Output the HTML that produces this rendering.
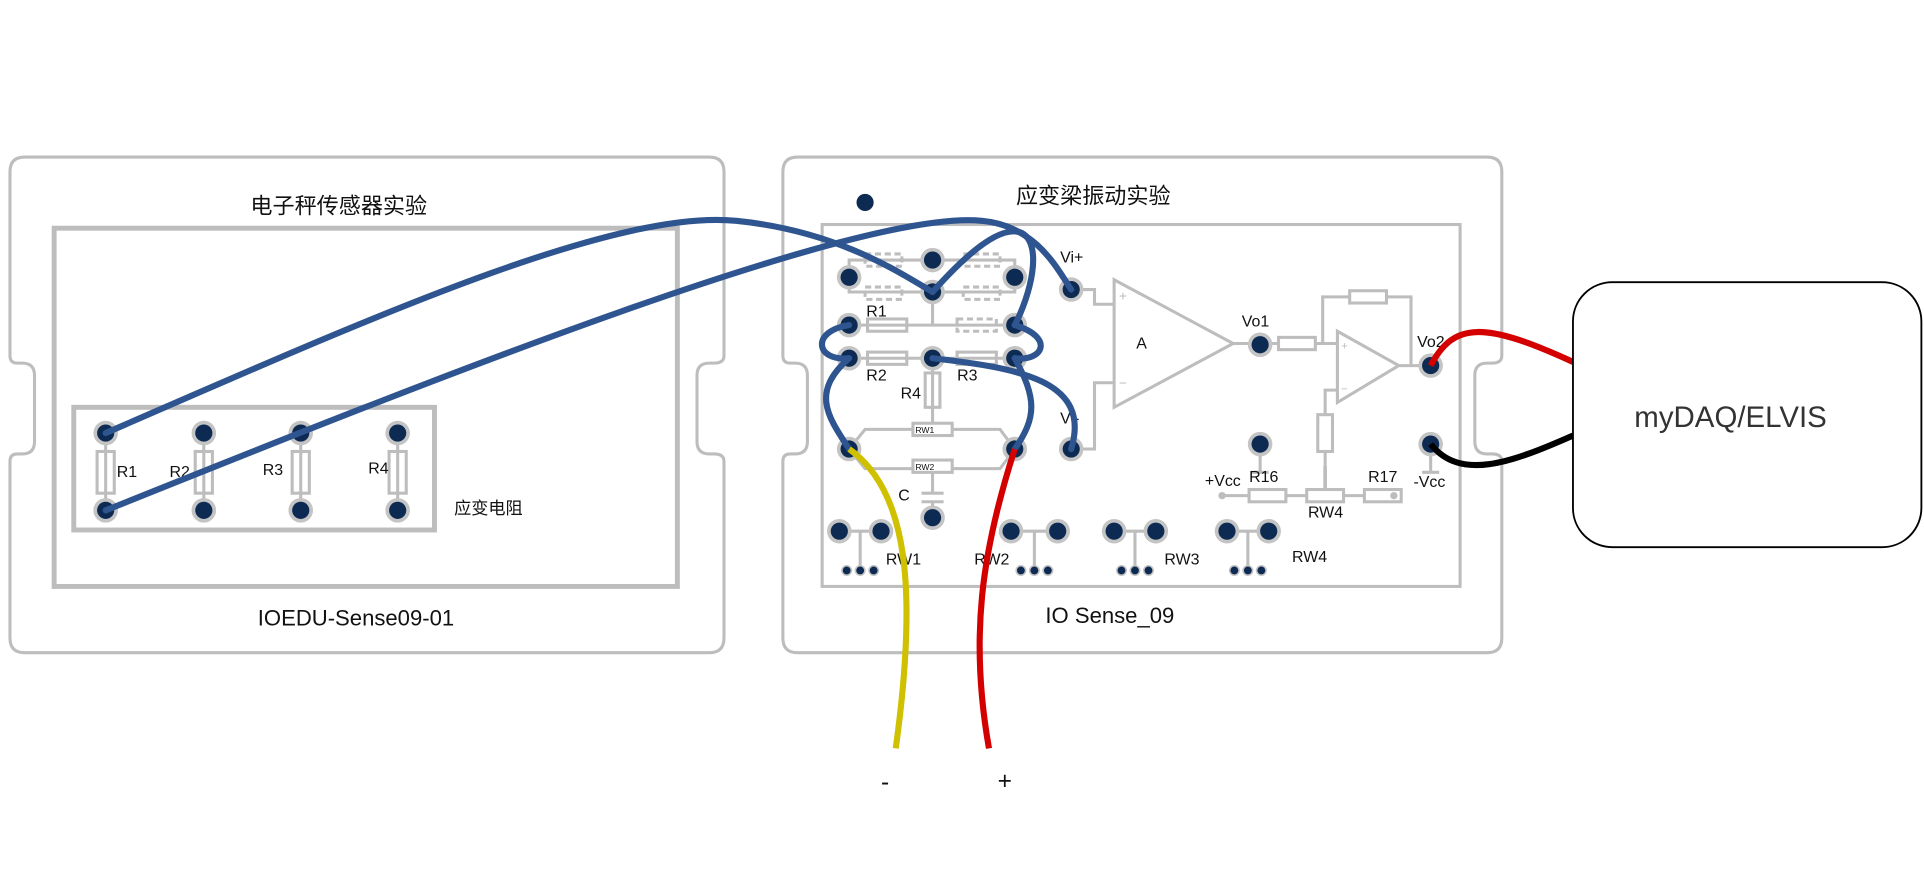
<!DOCTYPE html>
<html><head><meta charset="utf-8"><style>
html,body{margin:0;padding:0;background:#fff;}
svg{display:block;}
text{font-family:"Liberation Sans","Noto Sans CJK SC",sans-serif;fill:#111;}
</style></head><body>
<svg width="1924" height="887" viewBox="0 0 1568 723" xmlns="http://www.w3.org/2000/svg">
<defs>
<g id="pin"><circle r="10" fill="#c4c4c4"/><circle r="7" fill="#0d2b52"/></g>
<g id="sp"><circle r="4.5" fill="#c4c4c4"/><circle r="3.2" fill="#0d2b52"/></g>
</defs>
<g fill="none" stroke="#bdbdbd" stroke-width="2.5">
<path d="M20,128 H578 Q590,128 590,140 V290 Q590,296 582,296 H578 Q568,296 568,306 V360 Q568,370 578,370 H582 Q590,370 590,376 V520 Q590,532 578,532 H20 Q8,532 8,520 V376 Q8,370 14,370 H18 Q28,370 28,360 V306 Q28,296 18,296 H14 Q8,296 8,290 V140 Q8,128 20,128 Z"/>
<path d="M650,128 H1212 Q1224,128 1224,140 V290 Q1224,296 1216,296 H1212 Q1202,296 1202,306 V360 Q1202,370 1212,370 H1216 Q1224,370 1224,376 V520 Q1224,532 1212,532 H650 Q638,532 638,520 V376 Q638,370 644,370 H648 Q658,370 658,360 V306 Q658,296 648,296 H644 Q638,296 638,290 V140 Q638,128 650,128 Z"/>
</g>
<g fill="none" stroke="#bdbdbd" stroke-width="4">
<rect x="44" y="186" width="508" height="292"/>
<rect x="60" y="332" width="294" height="100"/>
</g>
<rect x="670" y="183" width="520" height="295" fill="none" stroke="#bdbdbd" stroke-width="2.5"/>
<g fill="none" stroke="#bdbdbd" stroke-width="2.5">
<rect x="79" y="368" width="14" height="34"/><line x1="86" y1="353" x2="86" y2="416"/>
<rect x="159" y="368" width="14" height="34"/><line x1="166" y1="353" x2="166" y2="416"/>
<rect x="238" y="368" width="14" height="34"/><line x1="245" y1="353" x2="245" y2="416"/>
<rect x="317" y="368" width="14" height="34"/><line x1="324" y1="353" x2="324" y2="416"/>
</g>
<g fill="none" stroke="#bdbdbd" stroke-width="2.5">
<rect x="705" y="207" width="30" height="10" stroke-dasharray="5 3"/>
<rect x="785" y="207" width="30" height="10" stroke-dasharray="5 3"/>
<rect x="705" y="234" width="30" height="10" stroke-dasharray="5 3"/>
<rect x="785" y="234" width="30" height="10" stroke-dasharray="5 3"/>
<path d="M692,226 V212 H827 V226 M692,226 V238 H827 V226"/>
<rect x="707" y="260" width="32" height="10"/>
<rect x="780" y="260" width="32" height="10" stroke-dasharray="5 3"/>
<path d="M692,265 H827 M760,238 V265"/>
<rect x="707" y="287" width="32" height="10"/>
<rect x="780" y="287" width="32" height="10"/>
<path d="M692,292 H827 M760,292 V346"/>
<rect x="754" y="304" width="12" height="28"/>
<path d="M692,366 L705,350 H815 L827,366 L815,382 H705 Z"/>
<rect x="744" y="345" width="32" height="10" fill="#fff"/>
<rect x="744" y="375" width="32" height="10" fill="#fff"/>
<path d="M760,385 V402 M751,402 H769 M751,409 H769 M760,409 V422"/>
<path d="M873,236 H892 V248 H908 M873,366 H892 V312 H908"/>
<path d="M908,228 L1005,280 L908,332 Z"/>
<path d="M1005,280 H1027 H1078 M1078,280 V242 H1150 V298 M1078,280 H1090"/>
<rect x="1042" y="275" width="30" height="10" fill="#fff"/>
<rect x="1100" y="237" width="30" height="10" fill="#fff"/>
<path d="M1090,270 L1140,298 L1090,328 Z"/>
<path d="M1140,298 H1166 M1090,318 H1080 V402"/>
<rect x="1074" y="338" width="12" height="30" fill="#fff"/>
<path d="M996,404 H1136 M1027,362 V385 M1020,385 H1034 M1166,362 V385 M1159,385 H1173"/>
<rect x="1018" y="399" width="30" height="10" fill="#fff"/>
<rect x="1065" y="399" width="30" height="10" fill="#fff"/>
<rect x="1112" y="399" width="30" height="10" fill="#fff"/>
<path d="M1080,380 V398" stroke-width="3"/>
<path d="M684,433 H718 M701,433 V465 M824,433 H862 M843,433 V465 M908,433 H942 M925,433 V465 M1000,433 H1034 M1017,433 V465"/>
</g>
<circle cx="996" cy="404" r="3" fill="#bdbdbd"/><circle cx="1136" cy="404" r="3" fill="#bdbdbd"/>
<text x="746" y="353" font-size="7">RW1</text>
<text x="746" y="383" font-size="7">RW2</text>
<text x="912" y="245" font-size="11" style="fill:#bbb">+</text>
<text x="912" y="316" font-size="11" style="fill:#bbb">−</text>
<text x="1093" y="285" font-size="9" style="fill:#bbb">+</text>
<text x="1093" y="320" font-size="9" style="fill:#bbb">−</text>
<g>
<use href="#pin" x="86" y="353"/><use href="#pin" x="166" y="353"/><use href="#pin" x="245" y="353"/><use href="#pin" x="324" y="353"/>
<use href="#pin" x="86" y="416"/><use href="#pin" x="166" y="416"/><use href="#pin" x="245" y="416"/><use href="#pin" x="324" y="416"/>
<circle cx="705" cy="165" r="7" fill="#0d2b52"/>
<use href="#pin" x="760" y="212"/><use href="#pin" x="692" y="226"/><use href="#pin" x="827" y="226"/><use href="#pin" x="760" y="238"/>
<use href="#pin" x="692" y="265"/><use href="#pin" x="827" y="265"/>
<use href="#pin" x="692" y="292"/><use href="#pin" x="760" y="292"/><use href="#pin" x="827" y="292"/>
<use href="#pin" x="873" y="236"/><use href="#pin" x="873" y="366"/>
<use href="#pin" x="692" y="366"/><use href="#pin" x="827" y="366"/><use href="#pin" x="760" y="422"/>
<use href="#pin" x="1027" y="281"/><use href="#pin" x="1166" y="298"/><use href="#pin" x="1166" y="362"/><use href="#pin" x="1027" y="362"/>
<use href="#pin" x="684" y="433"/><use href="#pin" x="718" y="433"/><use href="#sp" x="690" y="465"/><use href="#sp" x="701" y="465"/><use href="#sp" x="712" y="465"/>
<use href="#pin" x="824" y="433"/><use href="#pin" x="862" y="433"/><use href="#sp" x="832" y="465"/><use href="#sp" x="843" y="465"/><use href="#sp" x="854" y="465"/>
<use href="#pin" x="908" y="433"/><use href="#pin" x="942" y="433"/><use href="#sp" x="914" y="465"/><use href="#sp" x="925" y="465"/><use href="#sp" x="936" y="465"/>
<use href="#pin" x="1000" y="433"/><use href="#pin" x="1034" y="433"/><use href="#sp" x="1006" y="465"/><use href="#sp" x="1017" y="465"/><use href="#sp" x="1028" y="465"/>
</g>
<g font-size="13">
<text x="95" y="389">R1</text><text x="138" y="389">R2</text><text x="214" y="387">R3</text><text x="300" y="386">R4</text>
<text x="706" y="258">R1</text><text x="706" y="310">R2</text><text x="780" y="310">R3</text><text x="734" y="325">R4</text>
<text x="732" y="408">C</text>
<text x="864" y="214">Vi+</text><text x="864" y="345">Vi-</text>
<text x="1012" y="266">Vo1</text><text x="1155" y="283">Vo2</text>
<text x="926" y="284">A</text>
<text x="982" y="396">+Vcc</text><text x="1018" y="393">R16</text><text x="1066" y="422">RW4</text><text x="1115" y="393">R17</text><text x="1152" y="397">-Vcc</text>
<text x="722" y="460">RW1</text><text x="794" y="460">RW2</text><text x="949" y="460">RW3</text><text x="1053" y="458">RW4</text>
</g>
<text x="204" y="174" font-size="18">电子秤传感器实验</text>
<text x="828" y="166" font-size="18">应变梁振动实验</text>
<text x="370" y="419" font-size="14">应变电阻</text>
<text x="210" y="510" font-size="18">IOEDU-Sense09-01</text>
<text x="852" y="508" font-size="18">IO Sense_09</text>
<g fill="none" stroke="#2f5590" stroke-width="5" stroke-linecap="round">
<path d="M86,353 C300,260 500,170 600,180 C680,188 730,220 760,238"/>
<path d="M86,416 C350,310 700,170 800,180 C845,184 862,220 873,236"/>
<path d="M760,238 C785,210 815,182 833,190 C850,200 840,240 827,265"/>
<path d="M692,265 C660,270 665,295 692,292"/>
<path d="M827,265 C860,275 850,295 827,292"/>
<path d="M692,292 C660,320 675,340 692,366"/>
<path d="M827,292 C845,325 845,340 827,366"/>
<path d="M760,292 C830,300 890,310 873,366"/>
</g>
<path d="M692,366 C740,400 748,480 730,610" fill="none" stroke="#cfc100" stroke-width="5"/>
<path d="M827,366 C800,450 790,520 806,610" fill="none" stroke="#d40000" stroke-width="5"/>
<path d="M1166,298 C1185,262 1210,262 1282,295" fill="none" stroke="#d40000" stroke-width="5"/>
<path d="M1166,362 C1190,392 1230,378 1282,355" fill="none" stroke="#000" stroke-width="5"/>
<rect x="1282" y="230" width="284" height="216" rx="32" fill="#fff" stroke="#000" stroke-width="1.5"/>
<text x="1332" y="348" font-size="24" style="fill:#333">myDAQ/ELVIS</text>
<text x="718" y="644" font-size="20">-</text>
<text x="813" y="643" font-size="20">+</text>
</svg>
</body></html>
